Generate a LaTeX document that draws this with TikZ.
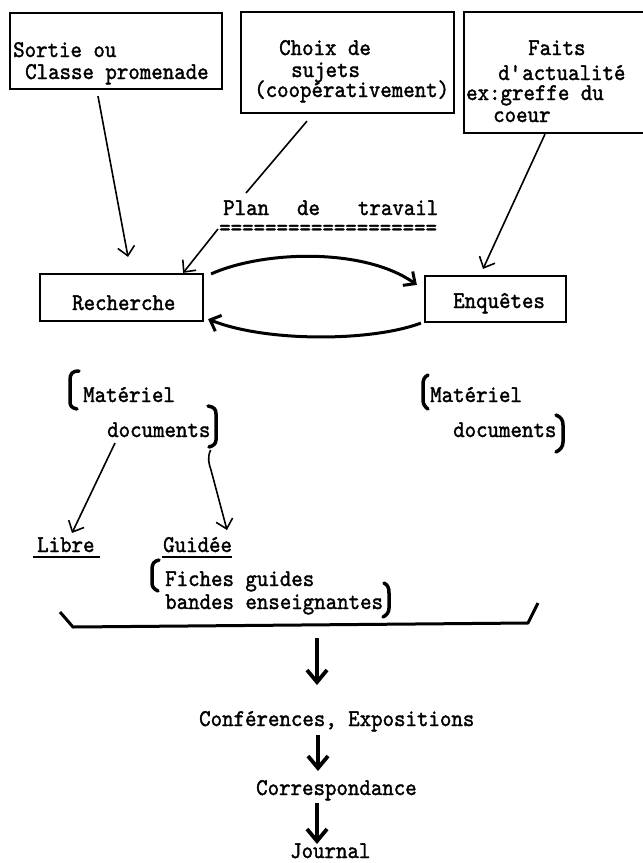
\documentclass[tikz,border=0pt]{standalone}
\usepackage{fontspec}
\newfontfamily\tw{lmmono10-regular}[Extension=.otf, FakeBold=1.5, FakeStretch=0.91]
\usetikzlibrary{arrows.meta}
\begin{document}
\begin{tikzpicture}[x=1pt,y=-1pt,
  txt/.style={inner sep=0pt, anchor=base west, font=\tw\fontsize{24}{28}\selectfont},
  box/.style={draw, line width=2.2pt, inner sep=0pt},
  thin/.style={line width=1.6pt, -{Straight Barb[length=9pt,width=17pt,line width=1.6pt]}},
  plainline/.style={line width=1.6pt},
  arcarrow/.style={line width=3pt, -{Straight Barb[length=9pt,width=17pt,line width=3pt]}},
  brk/.style={line width=3.5pt, line cap=round, line join=round},
  downarrow/.style={line width=3.8pt, -{Straight Barb[length=12pt,width=20pt,line width=3.8pt]}},
  uline/.style={line width=2.5pt}]
\useasboundingbox (0,0) rectangle (643,863);
\fill[white] (0,0) rectangle (643,863);

% boxes
\node[box, minimum width=212pt, minimum height=76pt] (sortie) at (116,51) {};
\node[box, minimum width=213pt, minimum height=101pt] (choix) at (347.5,62.5) {};
\node[box, minimum width=186pt, minimum height=121pt] (faits) at (557,72.5) {};
\node[box, minimum width=163pt, minimum height=47pt] (rech) at (121.5,297.5) {};
\node[box, minimum width=141pt, minimum height=46pt] (enq) at (495.5,299) {};

% texts in boxes
\node[txt] (t1a) at (13,57) {Sortie ou};
\node[txt] (t1b) at (25,79) {Classe promenade};
\node[txt] (t2a) at (279,55) {Choix de};
\node[txt] (t2b) at (291,77) {sujets};
\node[txt] (t2c) at (254,97) {(coopérativement)};
\node[txt] (t3a) at (528,55) {Faits};
\node[txt] (t3b) at (498,80) {d\textquotesingle actualité};
\node[txt] (t3c) at (466,100) {ex:greffe du};
\node[txt] (t3d) at (493,122) {coeur};
\node[txt] (trech) at (72,310) {Recherche};
\node[txt] (tenq) at (453,308) {Enquêtes};

% plan de travail
\node[txt] (plan) at (223,215) {Plan\hspace{28pt}de\hspace{38pt}travail};
\node[txt] (eq) at (219,235) {===================};

% lower texts
\node[txt] (matL) at (83,402) {Matériel};
\node[txt] (docL) at (107,437) {documents};
\node[txt] (matR) at (430,402) {Matériel};
\node[txt] (docR) at (453,437) {documents};
\node[txt] (libre) at (37,552) {Libre};
\node[txt] (guidee) at (163,552) {Guidée};
\node[txt] (fiches) at (165,586) {Fiches guides};
\node[txt] (bandes) at (165,609) {bandes enseignantes};
\node[txt] (conf) at (199,726) {Conférences, Expositions};
\node[txt] (corr) at (256,795) {Correspondance};
\node[txt] (journal) at (290,858) {Journal};

% connectors top
\draw[thin] ([xshift=-18pt,yshift=-6pt]sortie.south) -- ([xshift=6.5pt,yshift=16pt]rech.north);
\draw[plainline] ([xshift=-40.5pt,yshift=-7pt]choix.south) -- ([xshift=23pt,yshift=22pt]plan.base west);
\draw[thin] ([xshift=-1pt,yshift=6pt]eq.base west) -- ([xshift=-21pt]rech.north east);
\draw[thin] ([xshift=-12pt]faits.south) -- ([xshift=-12.5pt,yshift=6pt]enq.north);
\draw[arcarrow] ([xshift=7pt,yshift=-1pt]rech.north east) .. controls (265,250) and (365,248) .. ([xshift=-7pt,yshift=-10pt]enq.north west);
\draw[arcarrow] ([xshift=-3pt]enq.south west) .. controls (370,342) and (265,342) .. ([xshift=4pt,yshift=3pt]rech.south east);

% brackets
\draw[brk] (79,371) .. controls (72,371) and (70,374) .. (70,380) -- (70,402) .. controls (70,406) and (72,408) .. (77,409);
\draw[brk] (208,406) .. controls (214,407) and (216,409) .. (216,414) -- (216,440) .. controls (216,444) and (213,446) .. (209,447);
\draw[brk] (428,375) .. controls (424,377) and (423,380) .. (423,385) -- (423,400) .. controls (423,404) and (425,407) .. (428,409);
\draw[brk] (556,415) .. controls (561,417) and (563,420) .. (563,425) -- (563,442) .. controls (563,447) and (560,450) .. (556,452);
\draw[brk] (159,560) .. controls (154,561) and (152,564) .. (152,569) -- (152,583) .. controls (152,587) and (154,589) .. (158,591);
\draw[brk] (384,583) .. controls (388,585) and (389,588) .. (389,593) -- (389,608) .. controls (389,612) and (387,615) .. (383,617);

% arrows to Libre / Guidee
\draw[thin] ([xshift=8pt,yshift=-6pt]docL.base west) -- ([xshift=35pt,yshift=19pt]libre.base west);
\draw[thin] ([xshift=0pt,yshift=-13pt]docL.base east) .. controls (207,458) and (209,464) .. (211,470) -- ([xshift=64pt,yshift=22pt]guidee.base west);
\draw[uline] ([xshift=-4pt,yshift=-5pt]libre.base west) -- ([xshift=5pt,yshift=-5pt]libre.base east);
\draw[uline] ([xshift=-1pt,yshift=-5pt]guidee.base west) -- ([xshift=0pt,yshift=-5pt]guidee.base east);

% big bracket
\coordinate (bl) at (60,612);
\coordinate (bc1) at (73,627);
\coordinate (bm) at (317,625);
\coordinate (bc2) at (528,623);
\coordinate (br) at (538,603);
\draw[line width=3pt, line join=round] (bl) -- (bc1) -- (bc2) -- (br);

% down arrows
\draw[downarrow] ([yshift=-13pt]bm) -- ([xshift=118pt,yshift=41pt]conf.base west);
\draw[downarrow] ([xshift=119pt,yshift=-9pt]conf.base west) -- ([xshift=62pt,yshift=24pt]corr.base west);
\draw[downarrow] ([xshift=61pt,yshift=-8pt]corr.base west) -- ([xshift=27pt,yshift=14pt]journal.base west);
\end{tikzpicture}
\end{document}
